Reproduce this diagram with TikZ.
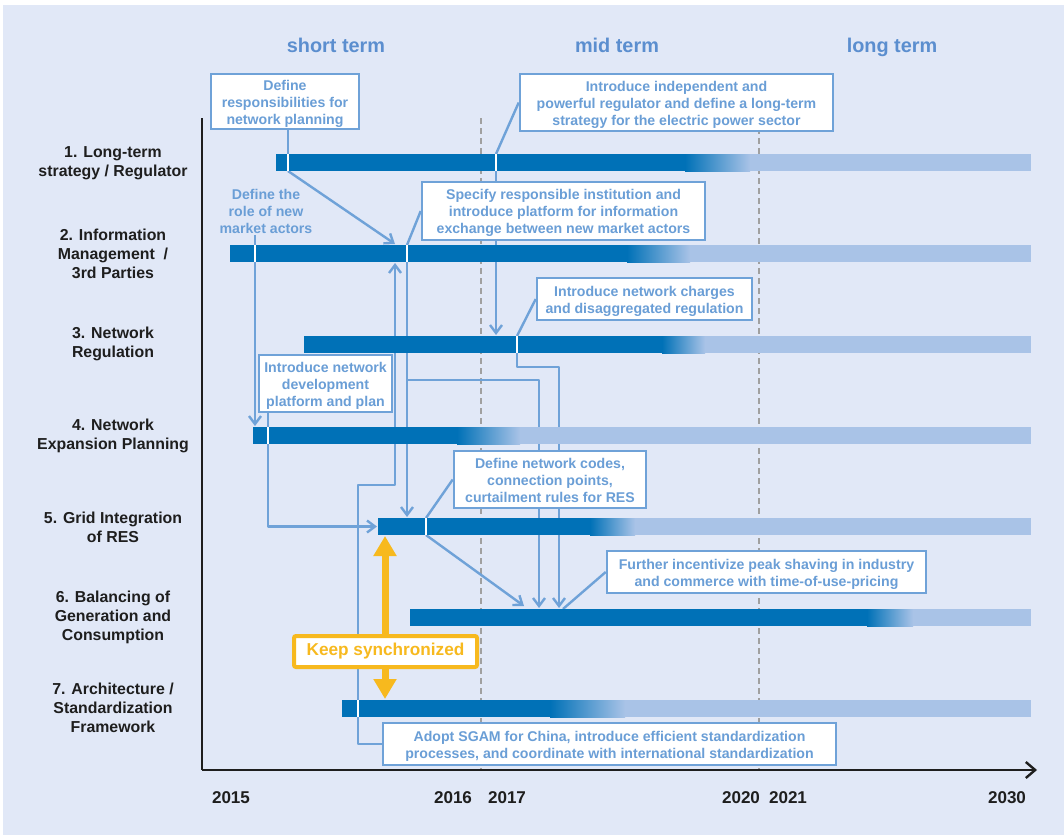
\documentclass[tikz,border=0pt]{standalone}
\usepackage{fontspec}
\setmainfont{Liberation Sans}
\usetikzlibrary{arrows.meta,calc}
\definecolor{bg}{RGB}{225,232,247}
\definecolor{bardark}{RGB}{0,113,183}
\definecolor{barlight}{RGB}{169,195,231}
\definecolor{callout}{RGB}{111,162,216}
\definecolor{calltext}{RGB}{106,158,214}
\definecolor{header}{RGB}{91,142,207}
\definecolor{syncc}{RGB}{247,185,30}
\definecolor{dashc}{RGB}{160,160,160}
\definecolor{labelc}{RGB}{30,30,30}
\pgfdeclarelayer{bglayer}
\pgfdeclarelayer{connlayer}
\pgfdeclarelayer{barlayer}
\pgfsetlayers{bglayer,connlayer,barlayer,main}
\newcommand\gbar[4]{%
  \fill[bardark] (#2,#1-8.5) rectangle (#3+0.5,#1+8.5);
  \shade[left color=bardark,right color=barlight] (#3,#1-8.5) rectangle (#4,#1+8.5);
  \fill[barlight] (#4-0.5,#1-8.5) rectangle (1031,#1+8.5);}
\newcommand\bx[1]{\raisebox{-1.6pt}[\height][\depth]{\begin{tabular}{@{}c@{}}#1\end{tabular}}}
\begin{document}
\begin{tikzpicture}[x=0.75pt,y=-0.75pt,
  box/.style={draw=callout,line width=1.9pt,fill=white,align=center,inner sep=0pt,
    text=calltext,font=\bfseries\fontsize{10.6}{12.75}\selectfont},
  plain/.style={align=center,inner sep=1pt,text=calltext,font=\bfseries\fontsize{10.6}{12.75}\selectfont},
  rowlabel/.style={align=center,inner sep=0pt,text=labelc,font=\bfseries\fontsize{11.9}{14.25}\selectfont},
  header/.style={inner sep=0pt,anchor=base,text=header,font=\bfseries\fontsize{14.9}{17}\selectfont},
  year/.style={inner sep=0pt,anchor=base,text=labelc,font=\bfseries\fontsize{12.8}{15}\selectfont},
  conn/.style={draw=callout,line width=1.8pt,line join=round},
  arr/.style={conn,-{Straight Barb[length=6pt,width=9pt,line width=1.8pt]}},
  tick/.style={draw=white,line width=1.8pt},
  dashv/.style={draw=dashc,line width=2.2pt,dash pattern=on 4.5pt off 3pt},
  axis/.style={draw=labelc,line width=1.8pt},
  syncarrow/.style={draw=syncc,line width=5.25pt,{Triangle[length=15pt,width=16.5pt]}-{Triangle[length=15pt,width=16.5pt]}},
  keepbox/.style={draw=syncc,line width=3pt,fill=white,rounded corners=1.5pt,inner sep=0pt,
    text=syncc,font=\bfseries\fontsize{12.9}{15}\selectfont,minimum width=137.25pt,minimum height=23.25pt}]
\useasboundingbox (0,0) rectangle (1064,835);
\begin{pgfonlayer}{bglayer}
\fill[white] (0,0) rectangle (1064,835);
\fill[bg] (3,5) rectangle (1064,835);
% dashed lines and axes
\coordinate (d1t) at (481,118); \coordinate (d1b) at (481,770);
\coordinate (d2t) at (759,118); \coordinate (d2b) at (759,770);
\draw[dashv] (d1t) -- (d1b);
\draw[dashv] (d2t) -- (d2b);
\coordinate (ax0) at (202,770); \coordinate (axt) at (202,118); \coordinate (axr) at (1037,770);
\draw[axis] (axt) -- (ax0);
\draw[axis,-{Straight Barb[length=7pt,width=12pt,line width=1.8pt]}] (ax0) -- (axr);
\end{pgfonlayer}

% headers
\node[header] (h1) at (336,52) {short term};
\node[header] (h2) at (617,52) {mid term};
\node[header] (h3) at (892,52) {long term};

% years
\node[year] (y2015) at (231,803) {2015};
\node[year] (y2016) at (453,803) {2016};
\node[year] (y2017) at (507,803) {2017};
\node[year] (y2020) at (741,803) {2020};
\node[year] (y2021) at (788,803) {2021};
\node[year] (y2030) at (1007,803) {2030};

% row labels
\node[rowlabel] (l1) at (113,163.5) {1. Long-term\\strategy / Regulator};
\node[rowlabel] (l2) at (113,253.5) {2. Information\\Management~~/\\3rd Parties};
\node[rowlabel] (l3) at (113,344) {3. Network\\Regulation};
\node[rowlabel] (l4) at (113,436) {4. Network\\Expansion Planning};
\node[rowlabel] (l5) at (113,527) {5. Grid Integration\\of RES};
\node[rowlabel] (l6) at (113,617) {6. Balancing of\\Generation and\\Consumption};
\node[rowlabel] (l7) at (113,707.5) {7. Architecture /\\Standardization\\Framework};

% tick coordinates
\coordinate (t1a) at (288,162.5);
\coordinate (t1b) at (496,162.5);
\coordinate (t2a) at (255,253.5);
\coordinate (t2b) at (407,253.5);
\coordinate (t3) at (517,344.5);
\coordinate (t4) at (268,435.5);
\coordinate (t5) at (426,526.5);
\coordinate (t7) at (358,708.5);
% targets
\coordinate (e2top) at (395,244);
\coordinate (e3top) at (496,335);
\coordinate (e4top) at (255,426);
\coordinate (e5top) at (407,517);
\coordinate (e5left) at (377,526.5);
\coordinate (e6a) at (539,608);
\coordinate (e6b) at (559,608);
\coordinate (e6c) at (524,606);
\coordinate (e6d) at (563,609);
\coordinate (e2bot) at (395,263);
\coordinate (s5) at (385,536);
\coordinate (s7) at (385,699);

% callout boxes
\node[box,minimum width=111pt,minimum height=41.25pt] (c1) at (285,101.5) {\bx{Define\\responsibilities for\\network planning}};
\node[box,minimum width=234.75pt,minimum height=42.75pt] (c2) at (676.5,102.5) {\bx{Introduce independent and\\powerful regulator and define a long-term\\strategy for the electric power sector}};
\node[plain] (c3) at (266,211) {Define the\\role of new\\market actors};
\node[box,minimum width=212.25pt,minimum height=43.5pt] (c4) at (563.5,211) {\bx{Specify responsible institution and\\introduce platform for information\\exchange between new market actors}};
\node[box,minimum width=161.25pt,minimum height=31.5pt] (c5) at (644.5,299) {\bx{Introduce network charges\\and disaggregated regulation}};
\node[box,minimum width=99.75pt,minimum height=42.75pt] (c6) at (325.5,383.5) {\bx{Introduce network\\development\\platform and plan}};
\node[box,minimum width=144pt,minimum height=42.75pt] (c7) at (550,479.5) {\bx{Define network codes,\\connection points,\\curtailment rules for RES}};
\node[box,minimum width=239.25pt,minimum height=31.5pt] (c8) at (766.5,572) {\bx{Further incentivize peak shaving in industry\\and commerce with time-of-use-pricing}};
\node[box,minimum width=339.75pt,minimum height=31.5pt] (sgam) at (609.5,744) {\bx{Adopt SGAM for China, introduce efficient standardization\\processes, and coordinate with international standardization}};

% connectors (behind bars)
\begin{pgfonlayer}{connlayer}
\draw[conn] (c1.south -| t1a) -- (t1a);
\draw[arr] ($(t1a)+(0,8.5)$) -- (e2top);
\draw[conn] (c2.west) -- ($(t1b)+(0,-8.5)$);
\draw[arr] (t1b) -- (e3top);
\draw[conn] (c3.south -| t2a) -- (t2a);
\draw[arr] (t2a) -- (e4top);
\draw[conn] (c4.west) -- ($(t2b)+(0,-8.5)$);
\draw[arr] (t2b) -- (e5top);
\draw[arr] (407,380) -| (e6a);
\draw[conn] (c5.west) -- ($(t3)+(0,-8.5)$);
\draw[arr] (t3) -- (517,367) -| (e6b);
\draw[conn] (c6.south -| t4) -- (t4);
\draw[arr] (t4) |- (e5left);
\draw[conn] (c7.west) -- ($(t5)+(0,-8.5)$);
\draw[arr] ($(t5)+(0,8.5)$) -- (e6c);
\draw[conn] (c8.west) -- (e6d);
\draw[arr] (sgam.west) -| (t7) -- (358,485) -| (e2bot);
\end{pgfonlayer}

% bars
\begin{pgfonlayer}{barlayer}
\gbar{162.5}{276}{685}{750}
\gbar{253.5}{230}{627}{690}
\gbar{344.5}{304}{662}{705}
\gbar{435.5}{253}{457}{520}
\gbar{526.5}{378}{590}{635}
\gbar{617.5}{410}{867}{913}
\gbar{708.5}{342}{550}{625}
\foreach \t in {t1a,t1b,t2a,t2b,t3,t4,t5,t7}
  \draw[tick] ($(\t)+(0,-8.5)$) -- ($(\t)+(0,8.5)$);
\end{pgfonlayer}

% sync arrow and box
\draw[syncarrow] (s5) -- (s7);
\node[keepbox] (keep) at (385.5,651.5) {Keep synchronized};
\end{tikzpicture}
\end{document}
